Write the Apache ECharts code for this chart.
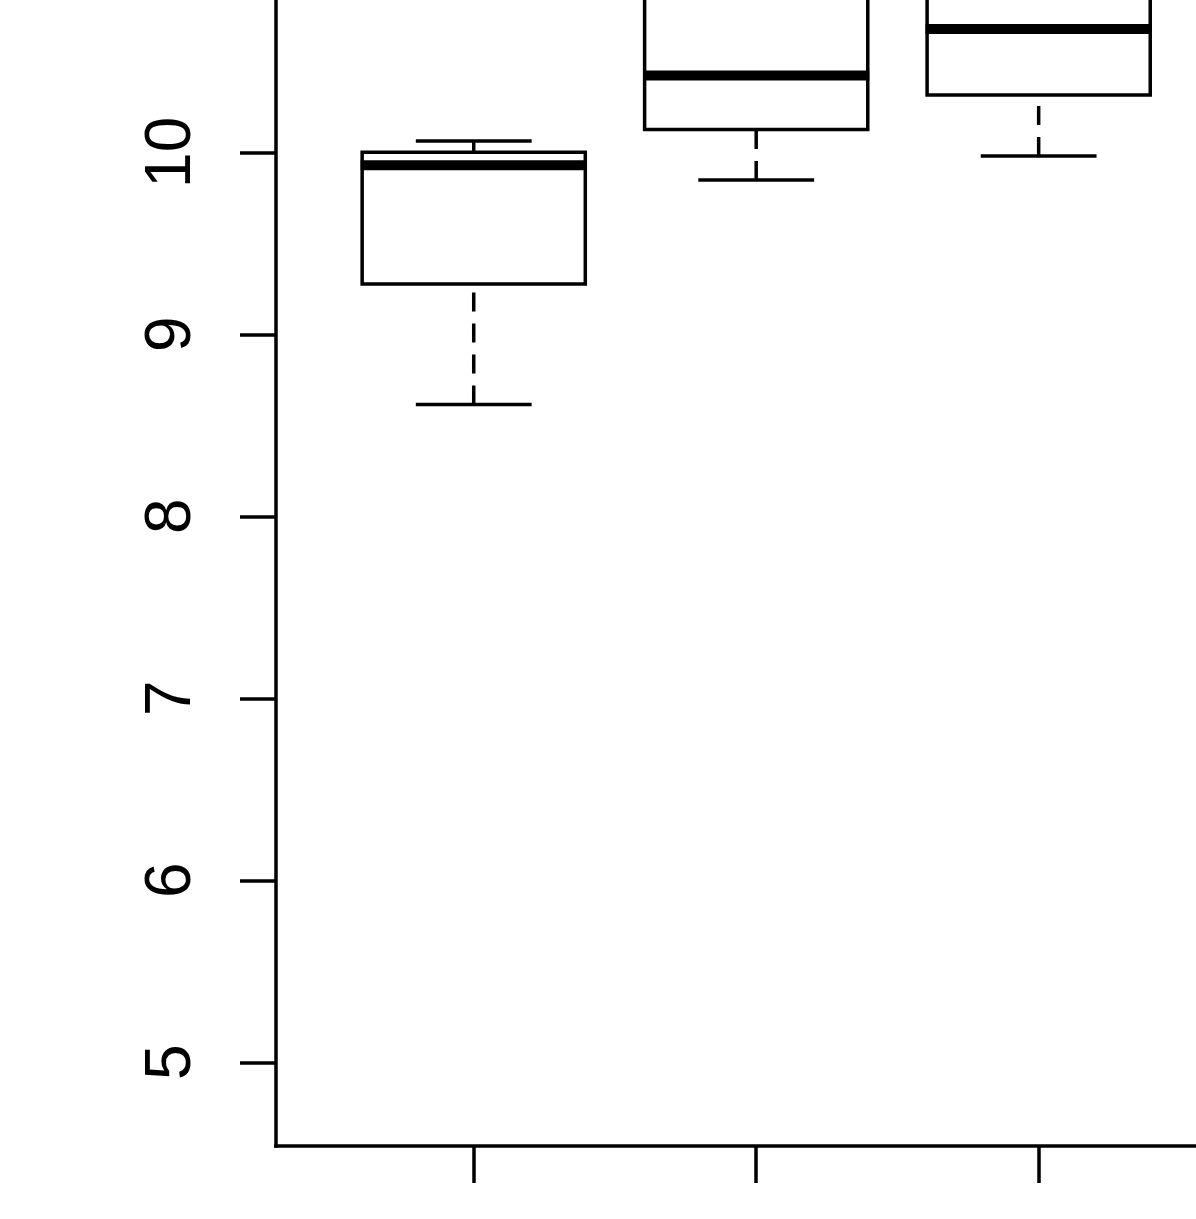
<!DOCTYPE html>
<html>
<head>
<meta charset="utf-8">
<title>boxplot</title>
<script src="https://cdn.jsdelivr.net/npm/echarts@6.0.0/dist/echarts.min.js"></script>
<style>
html, body { margin: 0; padding: 0; background: #fff; }
#box-chart { width: 1196px; height: 1219px; }
</style>
</head>
<body>
<div id="box-chart"></div>
<script>
// box positions on the x axis
var groups = [1, 2, 3]
// five number summaries (boxes 2 and 3 run past the top edge)
var lowWhisker = [8.615, 9.848, 9.98]
var lowerQuartile = [9.276, 10.126, 10.315]
var medians = [9.929, 10.422, 10.677]
var upperQuartile = [10.0, 11.2, 11.05]
var highWhisker = [10.062, 11.8, 11.6]
var yTicks = [5, 6, 7, 8, 9, 10]
var xTicks = [1, 2, 3]

var boxData = groups.map(function (g, i) {
  return [g, lowWhisker[i], lowerQuartile[i], medians[i], upperQuartile[i], highWhisker[i]]
})

function renderBox (params, api) {
  var x = api.value(0)
  var lo = api.coord([x, api.value(1)])
  var q1 = api.coord([x, api.value(2)])
  var md = api.coord([x, api.value(3)])
  var q3 = api.coord([x, api.value(4)])
  var hi = api.coord([x, api.value(5)])
  var half = api.size([0.79, 0])[0] / 2
  var cap = api.size([0.41, 0])[0] / 2
  var cx = lo[0]
  var black = { stroke: '#000', lineWidth: 3.5, fill: null }
  var dashed = { stroke: '#000', lineWidth: 3.5, lineDash: [19, 12] }
  return {
    type: 'group',
    children: [
      // whiskers, drawn from the end toward the box
      { type: 'line', shape: { x1: cx, y1: lo[1], x2: cx, y2: q1[1] }, style: dashed },
      { type: 'line', shape: { x1: cx, y1: hi[1], x2: cx, y2: q3[1] }, style: dashed },
      // staples
      { type: 'line', shape: { x1: cx - cap, y1: lo[1], x2: cx + cap, y2: lo[1] }, style: black },
      { type: 'line', shape: { x1: cx - cap, y1: hi[1], x2: cx + cap, y2: hi[1] }, style: black },
      // box
      {
        type: 'rect',
        shape: { x: cx - half, y: q3[1], width: half * 2, height: q1[1] - q3[1] },
        style: { stroke: '#000', lineWidth: 3.5, fill: '#fff' }
      },
      // median
      {
        type: 'line',
        shape: { x1: cx - half - 1.5, y1: md[1], x2: cx + half + 1.5, y2: md[1] },
        style: { stroke: '#000', lineWidth: 10 }
      }
    ]
  }
}

var chart = echarts.init(document.getElementById('box-chart'))
var option = {
  animation: false,
  backgroundColor: '#fff',
  grid: {
    left: 276,
    right: 0,
    top: 0,
    bottom: 73
  },
  xAxis: {
    type: 'value',
    min: 0.3,
    max: 3.557,
    splitLine: { show: false },
    axisLine: {
      onZero: false,
      lineStyle: { color: '#000', width: 3.5, cap: 'square' }
    },
    axisTick: {
      customValues: xTicks,
      length: 37,
      lineStyle: { color: '#000', width: 3.5 }
    },
    axisLabel: { show: false }
  },
  yAxis: {
    type: 'value',
    min: 4.54,
    max: 10.837,
    splitLine: { show: false },
    axisLine: {
      show: true,
      onZero: false,
      lineStyle: { color: '#000', width: 3.5, cap: 'square' }
    },
    axisTick: {
      show: true,
      customValues: yTicks,
      length: 36,
      lineStyle: { color: '#000', width: 3.5 }
    },
    axisLabel: {
      customValues: yTicks,
      rotate: 90,
      margin: 72,
      color: '#000',
      fontSize: 64,
      fontFamily: '"Liberation Sans", Arial, sans-serif'
    }
  },
  series: [
    {
      type: 'custom',
      renderItem: renderBox,
      clip: false,
      encode: { x: 0, y: [1, 2, 3, 4, 5] },
      data: boxData
    }
  ]
}
chart.setOption(option)
</script>
</body>
</html>
